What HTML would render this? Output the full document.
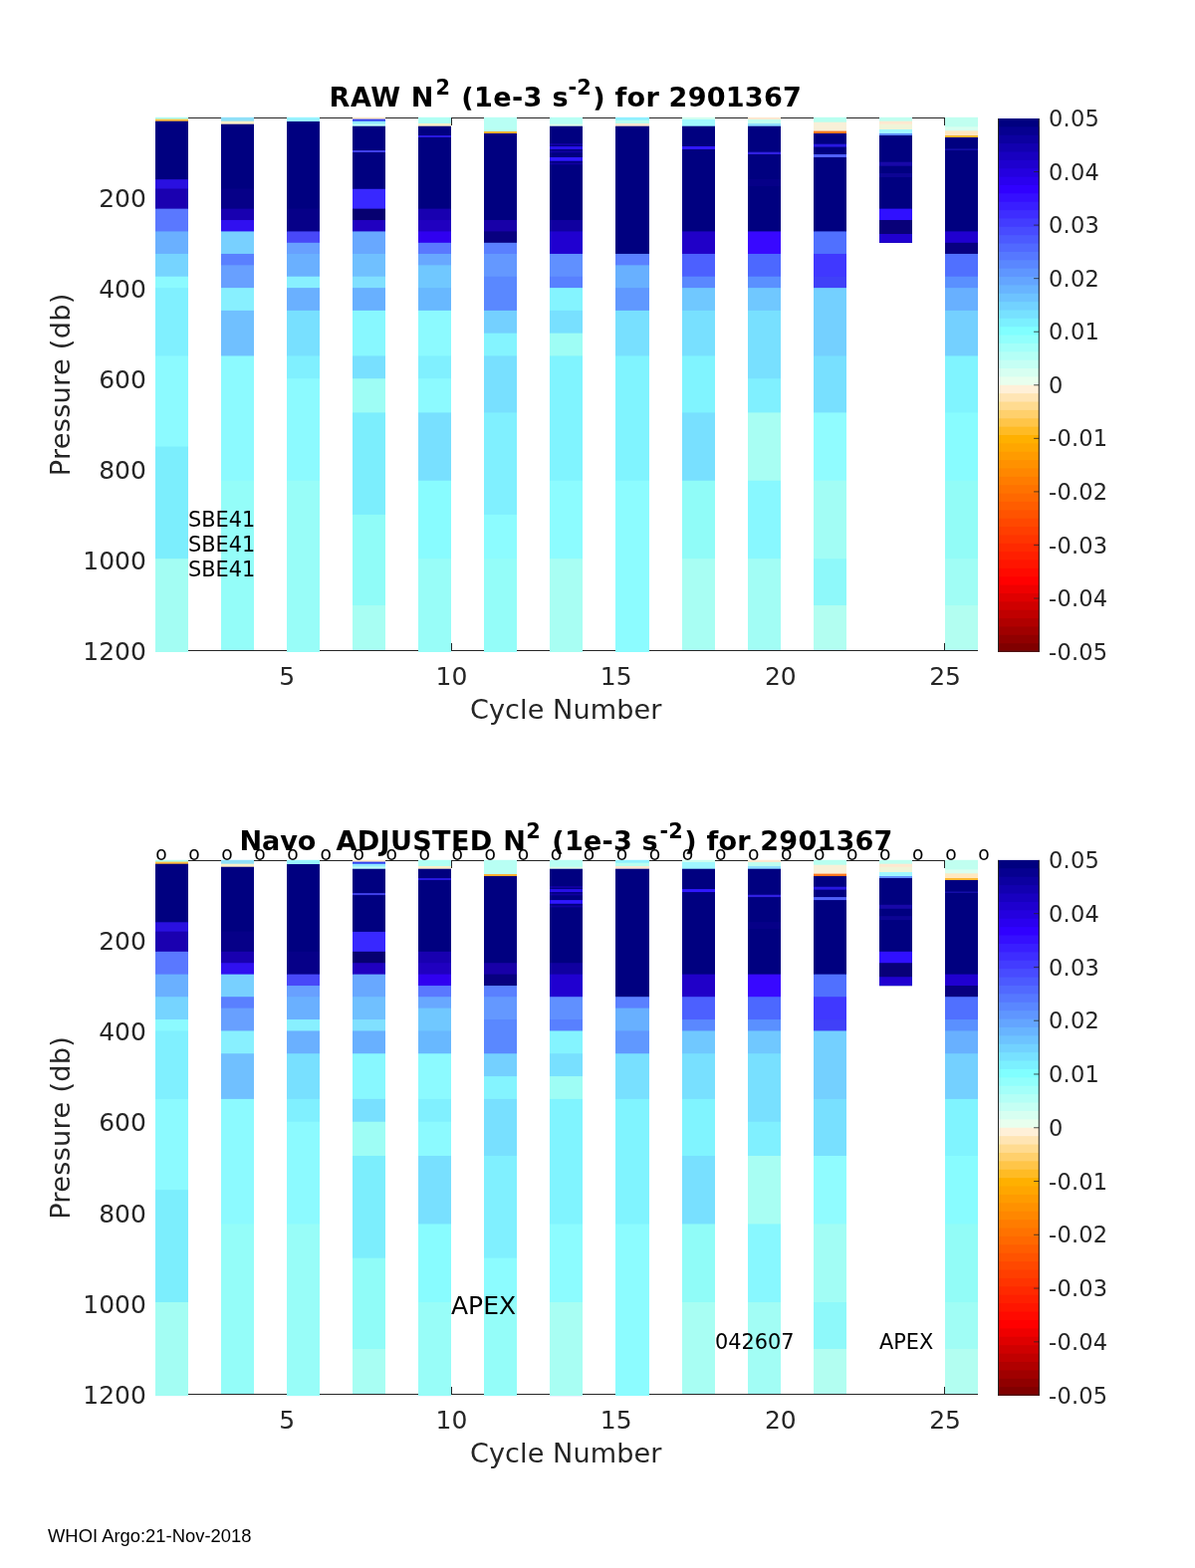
<!DOCTYPE html>
<html lang="en">
<head>
<meta charset="utf-8">
<title>N2 for 2901367</title>
<style>
html,body{margin:0;padding:0;background:#fff;}
body{width:1200px;height:1575px;overflow:hidden;}
svg{display:block;font-family:'DejaVu Sans','Liberation Sans',sans-serif;}
</style>
</head>
<body>
<svg width="1200" height="1575" viewBox="0 0 1200 1575">
<rect width="1200" height="1575" fill="#fff"/>
<g stroke="#262626" stroke-width="1" fill="none" shape-rendering="crispEdges">
<path d="M156 118.5H982M156 653.5H982"/>
<path d="M453.5 118.5v7.8M453.5 653.5v-7.8M948.5 118.5v7.8M948.5 653.5v-7.8"/>
</g>
<g>
<rect x="1002.3" y="119.00" width="41.20" height="535.60" fill="#000080"/>
<rect x="1002.3" y="127.37" width="41.20" height="527.23" fill="#060090"/>
<rect x="1002.3" y="135.74" width="41.20" height="518.86" fill="#0c00a0"/>
<rect x="1002.3" y="144.11" width="41.20" height="510.49" fill="#1200b0"/>
<rect x="1002.3" y="152.47" width="41.20" height="502.12" fill="#1800c0"/>
<rect x="1002.3" y="160.84" width="41.20" height="493.76" fill="#1e00cf"/>
<rect x="1002.3" y="169.21" width="41.20" height="485.39" fill="#2400df"/>
<rect x="1002.3" y="177.58" width="41.20" height="477.02" fill="#2a00ef"/>
<rect x="1002.3" y="185.95" width="41.20" height="468.65" fill="#3000ff"/>
<rect x="1002.3" y="194.32" width="41.20" height="460.28" fill="#350fff"/>
<rect x="1002.3" y="202.69" width="41.20" height="451.91" fill="#391eff"/>
<rect x="1002.3" y="211.06" width="41.20" height="443.54" fill="#3e2dff"/>
<rect x="1002.3" y="219.43" width="41.20" height="435.18" fill="#433cff"/>
<rect x="1002.3" y="227.79" width="41.20" height="426.81" fill="#484bff"/>
<rect x="1002.3" y="236.16" width="41.20" height="418.44" fill="#4c5aff"/>
<rect x="1002.3" y="244.53" width="41.20" height="410.07" fill="#5169ff"/>
<rect x="1002.3" y="252.90" width="41.20" height="401.70" fill="#5678ff"/>
<rect x="1002.3" y="261.27" width="41.20" height="393.33" fill="#5a87ff"/>
<rect x="1002.3" y="269.64" width="41.20" height="384.96" fill="#5f96ff"/>
<rect x="1002.3" y="278.01" width="41.20" height="376.59" fill="#64a5ff"/>
<rect x="1002.3" y="286.38" width="41.20" height="368.23" fill="#68b4ff"/>
<rect x="1002.3" y="294.74" width="41.20" height="359.86" fill="#6dc3ff"/>
<rect x="1002.3" y="303.11" width="41.20" height="351.49" fill="#72d2ff"/>
<rect x="1002.3" y="311.48" width="41.20" height="343.12" fill="#77e1ff"/>
<rect x="1002.3" y="319.85" width="41.20" height="334.75" fill="#7bf0ff"/>
<rect x="1002.3" y="328.22" width="41.20" height="326.38" fill="#80ffff"/>
<rect x="1002.3" y="336.59" width="41.20" height="318.01" fill="#91fffc"/>
<rect x="1002.3" y="344.96" width="41.20" height="309.64" fill="#a3fff9"/>
<rect x="1002.3" y="353.33" width="41.20" height="301.27" fill="#b4fff6"/>
<rect x="1002.3" y="361.69" width="41.20" height="292.91" fill="#c5fff4"/>
<rect x="1002.3" y="370.06" width="41.20" height="284.54" fill="#d7fff1"/>
<rect x="1002.3" y="378.43" width="41.20" height="276.17" fill="#e8ffee"/>
<rect x="1002.3" y="386.80" width="41.20" height="267.80" fill="#fff0d8"/>
<rect x="1002.3" y="395.17" width="41.20" height="259.43" fill="#ffe5b4"/>
<rect x="1002.3" y="403.54" width="41.20" height="251.06" fill="#ffdb90"/>
<rect x="1002.3" y="411.91" width="41.20" height="242.69" fill="#ffd06c"/>
<rect x="1002.3" y="420.28" width="41.20" height="234.32" fill="#ffc548"/>
<rect x="1002.3" y="428.64" width="41.20" height="225.96" fill="#ffbb24"/>
<rect x="1002.3" y="437.01" width="41.20" height="217.59" fill="#ffb000"/>
<rect x="1002.3" y="445.38" width="41.20" height="209.22" fill="#ffa600"/>
<rect x="1002.3" y="453.75" width="41.20" height="200.85" fill="#ff9b00"/>
<rect x="1002.3" y="462.12" width="41.20" height="192.48" fill="#ff9100"/>
<rect x="1002.3" y="470.49" width="41.20" height="184.11" fill="#ff8700"/>
<rect x="1002.3" y="478.86" width="41.20" height="175.74" fill="#ff7c00"/>
<rect x="1002.3" y="487.23" width="41.20" height="167.38" fill="#ff7200"/>
<rect x="1002.3" y="495.59" width="41.20" height="159.01" fill="#ff6800"/>
<rect x="1002.3" y="503.96" width="41.20" height="150.64" fill="#ff5d00"/>
<rect x="1002.3" y="512.33" width="41.20" height="142.27" fill="#ff5300"/>
<rect x="1002.3" y="520.70" width="41.20" height="133.90" fill="#ff4800"/>
<rect x="1002.3" y="529.07" width="41.20" height="125.53" fill="#ff3e00"/>
<rect x="1002.3" y="537.44" width="41.20" height="117.16" fill="#ff3400"/>
<rect x="1002.3" y="545.81" width="41.20" height="108.79" fill="#ff2900"/>
<rect x="1002.3" y="554.17" width="41.20" height="100.43" fill="#ff1f00"/>
<rect x="1002.3" y="562.54" width="41.20" height="92.06" fill="#ff1500"/>
<rect x="1002.3" y="570.91" width="41.20" height="83.69" fill="#ff0a00"/>
<rect x="1002.3" y="579.28" width="41.20" height="75.32" fill="#ff0000"/>
<rect x="1002.3" y="587.65" width="41.20" height="66.95" fill="#ef0000"/>
<rect x="1002.3" y="596.02" width="41.20" height="58.58" fill="#df0000"/>
<rect x="1002.3" y="604.39" width="41.20" height="50.21" fill="#cf0000"/>
<rect x="1002.3" y="612.76" width="41.20" height="41.84" fill="#c00000"/>
<rect x="1002.3" y="621.12" width="41.20" height="33.48" fill="#b00000"/>
<rect x="1002.3" y="629.49" width="41.20" height="25.11" fill="#a00000"/>
<rect x="1002.3" y="637.86" width="41.20" height="16.74" fill="#900000"/>
<rect x="1002.3" y="646.23" width="41.20" height="8.37" fill="#800000"/>
</g>
<g stroke="#262626" stroke-width="0.8" fill="none">
<path d="M1002.5 119.0V654.6M1043.3 119.0V654.6" stroke-width="1"/>
<path d="M1002 654.20H1043.8" stroke-width="0.8"/>
<path d="M1043.5 172.56h-5.4"/>
<path d="M1043.5 226.12h-5.4"/>
<path d="M1043.5 279.68h-5.4"/>
<path d="M1043.5 333.24h-5.4"/>
<path d="M1043.5 386.80h-5.4"/>
<path d="M1043.5 440.36h-5.4"/>
<path d="M1043.5 493.92h-5.4"/>
<path d="M1043.5 547.48h-5.4"/>
<path d="M1043.5 601.04h-5.4"/>
</g>
<g font-size="22.5" fill="#262626" letter-spacing="0.2">
<text x="1053.1" y="127.1" xml:space="preserve">0.05</text>
<text x="1053.1" y="180.66" xml:space="preserve">0.04</text>
<text x="1053.1" y="234.22" xml:space="preserve">0.03</text>
<text x="1053.1" y="287.78" xml:space="preserve">0.02</text>
<text x="1053.1" y="341.34" xml:space="preserve">0.01</text>
<text x="1053.1" y="394.9" xml:space="preserve">0</text>
<text x="1053.1" y="448.46" xml:space="preserve">-0.01</text>
<text x="1053.1" y="502.02" xml:space="preserve">-0.02</text>
<text x="1053.1" y="555.58" xml:space="preserve">-0.03</text>
<text x="1053.1" y="609.14" xml:space="preserve">-0.04</text>
<text x="1053.1" y="662.7" xml:space="preserve">-0.05</text>
</g>
<g transform="translate(0,0)">
<g>
<rect x="156" y="117.80" width="33" height="537.20" fill="#b0fff4"/>
<rect x="156" y="119.60" width="33" height="535.40" fill="#ffc040"/>
<rect x="156" y="121.70" width="33" height="533.30" fill="#000080"/>
<rect x="156" y="180.20" width="33" height="474.80" fill="#2a10e0"/>
<rect x="156" y="189.50" width="33" height="465.50" fill="#1a00b0"/>
<rect x="156" y="209.64" width="33" height="445.36" fill="#5a78ff"/>
<rect x="156" y="232.42" width="33" height="422.58" fill="#6ab0ff"/>
<rect x="156" y="254.95" width="33" height="400.05" fill="#76d4ff"/>
<rect x="156" y="277.73" width="33" height="377.27" fill="#8cfaff"/>
<rect x="156" y="289.12" width="33" height="365.88" fill="#80f0ff"/>
<rect x="156" y="357.46" width="33" height="297.54" fill="#8cfaff"/>
<rect x="156" y="448.58" width="33" height="206.42" fill="#7ceefd"/>
<rect x="156" y="561.20" width="33" height="93.80" fill="#a3fdf3"/>
<rect x="222" y="117.80" width="33" height="535.20" fill="#90e0f8"/>
<rect x="222" y="121.70" width="33" height="531.30" fill="#fff0c8"/>
<rect x="222" y="124.70" width="33" height="528.30" fill="#000080"/>
<rect x="222" y="189.50" width="33" height="463.50" fill="#060088"/>
<rect x="222" y="209.64" width="33" height="443.36" fill="#1800b0"/>
<rect x="222" y="221.03" width="33" height="431.97" fill="#3010f0"/>
<rect x="222" y="232.42" width="33" height="420.58" fill="#78d0ff"/>
<rect x="222" y="254.95" width="33" height="398.05" fill="#5a80ff"/>
<rect x="222" y="266.34" width="33" height="386.66" fill="#68a0ff"/>
<rect x="222" y="289.12" width="33" height="363.88" fill="#88f0ff"/>
<rect x="222" y="311.90" width="33" height="341.10" fill="#70c0ff"/>
<rect x="222" y="357.46" width="33" height="295.54" fill="#8cfaff"/>
<rect x="222" y="482.75" width="33" height="170.25" fill="#94fdf9"/>
<rect x="288" y="117.80" width="33" height="537.20" fill="#98f4ff"/>
<rect x="288" y="122.00" width="33" height="533.00" fill="#000080"/>
<rect x="288" y="209.64" width="33" height="445.36" fill="#060088"/>
<rect x="288" y="232.42" width="33" height="422.58" fill="#4848f8"/>
<rect x="288" y="243.81" width="33" height="411.19" fill="#68a0ff"/>
<rect x="288" y="254.95" width="33" height="400.05" fill="#6ab0ff"/>
<rect x="288" y="277.73" width="33" height="377.27" fill="#88f0ff"/>
<rect x="288" y="289.12" width="33" height="365.88" fill="#6ab0ff"/>
<rect x="288" y="311.90" width="33" height="343.10" fill="#78e0ff"/>
<rect x="288" y="357.46" width="33" height="297.54" fill="#80f0ff"/>
<rect x="288" y="380.24" width="33" height="274.76" fill="#8cfaff"/>
<rect x="288" y="482.75" width="33" height="172.25" fill="#98fdf8"/>
<rect x="354" y="117.80" width="33" height="535.20" fill="#ffe8c8"/>
<rect x="354" y="119.60" width="33" height="533.40" fill="#3040f0"/>
<rect x="354" y="121.70" width="33" height="531.30" fill="#90e8ff"/>
<rect x="354" y="124.40" width="33" height="528.60" fill="#c0fff8"/>
<rect x="354" y="126.70" width="33" height="526.30" fill="#000080"/>
<rect x="354" y="151.00" width="33" height="502.00" fill="#4040e8"/>
<rect x="354" y="153.00" width="33" height="500.00" fill="#000080"/>
<rect x="354" y="189.80" width="33" height="463.20" fill="#3828ff"/>
<rect x="354" y="209.64" width="33" height="443.36" fill="#060070"/>
<rect x="354" y="221.03" width="33" height="431.97" fill="#2000c0"/>
<rect x="354" y="232.42" width="33" height="420.58" fill="#68a8ff"/>
<rect x="354" y="254.95" width="33" height="398.05" fill="#70c0ff"/>
<rect x="354" y="277.73" width="33" height="375.27" fill="#80e0ff"/>
<rect x="354" y="289.12" width="33" height="363.88" fill="#68b0ff"/>
<rect x="354" y="311.90" width="33" height="341.10" fill="#88f8ff"/>
<rect x="354" y="357.46" width="33" height="295.54" fill="#78e0ff"/>
<rect x="354" y="380.24" width="33" height="272.76" fill="#9efdf5"/>
<rect x="354" y="414.41" width="33" height="238.59" fill="#7ceefd"/>
<rect x="354" y="516.92" width="33" height="136.08" fill="#90fcf8"/>
<rect x="354" y="608.04" width="33" height="44.96" fill="#a8fef3"/>
<rect x="420" y="117.80" width="33" height="537.20" fill="#b0fff4"/>
<rect x="420" y="124.00" width="33" height="531.00" fill="#fff0c8"/>
<rect x="420" y="126.70" width="33" height="528.30" fill="#000080"/>
<rect x="420" y="136.00" width="33" height="519.00" fill="#2818e0"/>
<rect x="420" y="138.00" width="33" height="517.00" fill="#000080"/>
<rect x="420" y="209.64" width="33" height="445.36" fill="#1800b0"/>
<rect x="420" y="221.03" width="33" height="433.97" fill="#2000c0"/>
<rect x="420" y="232.42" width="33" height="422.58" fill="#3000f0"/>
<rect x="420" y="243.81" width="33" height="411.19" fill="#5a78ff"/>
<rect x="420" y="254.95" width="33" height="400.05" fill="#68a8ff"/>
<rect x="420" y="266.34" width="33" height="388.66" fill="#70c8ff"/>
<rect x="420" y="289.12" width="33" height="365.88" fill="#68b8ff"/>
<rect x="420" y="311.90" width="33" height="343.10" fill="#8cfaff"/>
<rect x="420" y="357.46" width="33" height="297.54" fill="#80f0ff"/>
<rect x="420" y="380.24" width="33" height="274.76" fill="#8cfaff"/>
<rect x="420" y="414.41" width="33" height="240.59" fill="#78e0ff"/>
<rect x="420" y="482.75" width="33" height="172.25" fill="#88fcff"/>
<rect x="420" y="561.20" width="33" height="93.80" fill="#98fdf8"/>
<rect x="486" y="117.80" width="33" height="537.20" fill="#b8fff4"/>
<rect x="486" y="132.00" width="33" height="523.00" fill="#ffb030"/>
<rect x="486" y="134.00" width="33" height="521.00" fill="#000080"/>
<rect x="486" y="221.03" width="33" height="433.97" fill="#1800a8"/>
<rect x="486" y="232.42" width="33" height="422.58" fill="#080080"/>
<rect x="486" y="243.81" width="33" height="411.19" fill="#5a80ff"/>
<rect x="486" y="254.95" width="33" height="400.05" fill="#6498ff"/>
<rect x="486" y="277.73" width="33" height="377.27" fill="#5a88ff"/>
<rect x="486" y="311.90" width="33" height="343.10" fill="#74d0ff"/>
<rect x="486" y="334.68" width="33" height="320.32" fill="#84f4ff"/>
<rect x="486" y="357.46" width="33" height="297.54" fill="#78e0ff"/>
<rect x="486" y="414.41" width="33" height="240.59" fill="#80f0ff"/>
<rect x="486" y="516.92" width="33" height="138.08" fill="#8cfcff"/>
<rect x="486" y="561.20" width="33" height="93.80" fill="#94fdf9"/>
<rect x="552" y="117.80" width="33" height="537.20" fill="#b8fff4"/>
<rect x="552" y="124.70" width="33" height="530.30" fill="#e0ffe8"/>
<rect x="552" y="126.70" width="33" height="528.30" fill="#000080"/>
<rect x="552" y="144.00" width="33" height="511.00" fill="#1000a0"/>
<rect x="552" y="146.00" width="33" height="509.00" fill="#000080"/>
<rect x="552" y="147.00" width="33" height="508.00" fill="#2810e8"/>
<rect x="552" y="150.00" width="33" height="505.00" fill="#000080"/>
<rect x="552" y="151.50" width="33" height="503.50" fill="#1000a0"/>
<rect x="552" y="153.30" width="33" height="501.70" fill="#000080"/>
<rect x="552" y="158.00" width="33" height="497.00" fill="#3018ff"/>
<rect x="552" y="161.70" width="33" height="493.30" fill="#000080"/>
<rect x="552" y="163.50" width="33" height="491.50" fill="#1000a0"/>
<rect x="552" y="165.30" width="33" height="489.70" fill="#000080"/>
<rect x="552" y="221.03" width="33" height="433.97" fill="#1000a0"/>
<rect x="552" y="232.42" width="33" height="422.58" fill="#2000d0"/>
<rect x="552" y="254.95" width="33" height="400.05" fill="#6090ff"/>
<rect x="552" y="277.73" width="33" height="377.27" fill="#5880ff"/>
<rect x="552" y="289.12" width="33" height="365.88" fill="#84f4ff"/>
<rect x="552" y="311.90" width="33" height="343.10" fill="#78e0ff"/>
<rect x="552" y="334.68" width="33" height="320.32" fill="#9efdf5"/>
<rect x="552" y="357.46" width="33" height="297.54" fill="#80f4ff"/>
<rect x="552" y="482.75" width="33" height="172.25" fill="#8cfcff"/>
<rect x="552" y="561.20" width="33" height="93.80" fill="#a8fef3"/>
<rect x="618" y="117.80" width="34" height="537.20" fill="#90f0ff"/>
<rect x="618" y="120.70" width="34" height="534.30" fill="#b8fff0"/>
<rect x="618" y="124.00" width="34" height="531.00" fill="#ffe8d0"/>
<rect x="618" y="126.70" width="34" height="528.30" fill="#000080"/>
<rect x="618" y="254.95" width="34" height="400.05" fill="#5a80ff"/>
<rect x="618" y="266.34" width="34" height="388.66" fill="#68b0ff"/>
<rect x="618" y="289.12" width="34" height="365.88" fill="#6098ff"/>
<rect x="618" y="311.90" width="34" height="343.10" fill="#78e0ff"/>
<rect x="618" y="357.46" width="34" height="297.54" fill="#80f4ff"/>
<rect x="618" y="482.75" width="34" height="172.25" fill="#8cfcff"/>
<rect x="685" y="117.80" width="33" height="535.20" fill="#d0fff0"/>
<rect x="685" y="120.00" width="33" height="533.00" fill="#a0f8ff"/>
<rect x="685" y="126.70" width="33" height="526.30" fill="#000080"/>
<rect x="685" y="147.00" width="33" height="506.00" fill="#3018ff"/>
<rect x="685" y="150.00" width="33" height="503.00" fill="#000080"/>
<rect x="685" y="232.42" width="33" height="420.58" fill="#2000c8"/>
<rect x="685" y="254.95" width="33" height="398.05" fill="#4c60ff"/>
<rect x="685" y="277.73" width="33" height="375.27" fill="#5a88ff"/>
<rect x="685" y="289.12" width="33" height="363.88" fill="#70c8ff"/>
<rect x="685" y="311.90" width="33" height="341.10" fill="#78e0ff"/>
<rect x="685" y="357.46" width="33" height="295.54" fill="#80f4ff"/>
<rect x="685" y="414.41" width="33" height="238.59" fill="#78e0ff"/>
<rect x="685" y="482.75" width="33" height="170.25" fill="#90fcf8"/>
<rect x="685" y="561.20" width="33" height="91.80" fill="#a8fef3"/>
<rect x="751" y="117.80" width="33" height="535.20" fill="#ffe8d0"/>
<rect x="751" y="120.00" width="33" height="533.00" fill="#c0fff0"/>
<rect x="751" y="124.00" width="33" height="529.00" fill="#90e0ff"/>
<rect x="751" y="126.70" width="33" height="526.30" fill="#000080"/>
<rect x="751" y="152.70" width="33" height="500.30" fill="#3020e0"/>
<rect x="751" y="155.00" width="33" height="498.00" fill="#000080"/>
<rect x="751" y="180.00" width="33" height="473.00" fill="#060088"/>
<rect x="751" y="187.00" width="33" height="466.00" fill="#000080"/>
<rect x="751" y="232.42" width="33" height="420.58" fill="#3808ff"/>
<rect x="751" y="254.95" width="33" height="398.05" fill="#4c68ff"/>
<rect x="751" y="277.73" width="33" height="375.27" fill="#5a90ff"/>
<rect x="751" y="289.12" width="33" height="363.88" fill="#70c8ff"/>
<rect x="751" y="311.90" width="33" height="341.10" fill="#78e0ff"/>
<rect x="751" y="380.24" width="33" height="272.76" fill="#80f0ff"/>
<rect x="751" y="414.41" width="33" height="238.59" fill="#a8fef3"/>
<rect x="751" y="482.75" width="33" height="170.25" fill="#88f8ff"/>
<rect x="751" y="561.20" width="33" height="91.80" fill="#a2fdf5"/>
<rect x="817" y="117.80" width="33" height="535.20" fill="#b8fff0"/>
<rect x="817" y="122.70" width="33" height="530.30" fill="#f8f0d8"/>
<rect x="817" y="131.60" width="33" height="521.40" fill="#ff7820"/>
<rect x="817" y="134.00" width="33" height="519.00" fill="#000080"/>
<rect x="817" y="144.70" width="33" height="508.30" fill="#2818e0"/>
<rect x="817" y="147.60" width="33" height="505.40" fill="#000080"/>
<rect x="817" y="155.00" width="33" height="498.00" fill="#5060f8"/>
<rect x="817" y="158.00" width="33" height="495.00" fill="#000080"/>
<rect x="817" y="232.42" width="33" height="420.58" fill="#5070ff"/>
<rect x="817" y="254.95" width="33" height="398.05" fill="#4038ff"/>
<rect x="817" y="277.73" width="33" height="375.27" fill="#4040f8"/>
<rect x="817" y="289.12" width="33" height="363.88" fill="#74d0ff"/>
<rect x="817" y="357.46" width="33" height="295.54" fill="#78e0ff"/>
<rect x="817" y="414.41" width="33" height="238.59" fill="#90fcff"/>
<rect x="817" y="482.75" width="33" height="170.25" fill="#a2fdf5"/>
<rect x="817" y="561.20" width="33" height="91.80" fill="#8ef9fa"/>
<rect x="817" y="608.04" width="33" height="44.96" fill="#b2fef1"/>
<rect x="883" y="117.80" width="33" height="126.00" fill="#c0fff0"/>
<rect x="883" y="121.70" width="33" height="122.10" fill="#ffe8d0"/>
<rect x="883" y="124.70" width="33" height="119.10" fill="#f0f4d8"/>
<rect x="883" y="130.00" width="33" height="113.80" fill="#a0f8ff"/>
<rect x="883" y="134.00" width="33" height="109.80" fill="#6090ff"/>
<rect x="883" y="136.00" width="33" height="107.80" fill="#000080"/>
<rect x="883" y="162.70" width="33" height="81.10" fill="#1808a8"/>
<rect x="883" y="166.70" width="33" height="77.10" fill="#000080"/>
<rect x="883" y="174.00" width="33" height="69.80" fill="#0c0494"/>
<rect x="883" y="178.00" width="33" height="65.80" fill="#000080"/>
<rect x="883" y="209.64" width="33" height="34.16" fill="#3010ff"/>
<rect x="883" y="221.03" width="33" height="22.77" fill="#080078"/>
<rect x="883" y="235.00" width="33" height="8.80" fill="#2000d0"/>
<rect x="949" y="117.80" width="33" height="535.20" fill="#c0fff0"/>
<rect x="949" y="127.30" width="33" height="525.70" fill="#d8fff0"/>
<rect x="949" y="131.30" width="33" height="521.70" fill="#ffe8c0"/>
<rect x="949" y="136.00" width="33" height="517.00" fill="#ffb830"/>
<rect x="949" y="138.00" width="33" height="515.00" fill="#000080"/>
<rect x="949" y="149.50" width="33" height="503.50" fill="#1810b0"/>
<rect x="949" y="150.80" width="33" height="502.20" fill="#000080"/>
<rect x="949" y="232.42" width="33" height="420.58" fill="#2000d0"/>
<rect x="949" y="243.81" width="33" height="409.19" fill="#080080"/>
<rect x="949" y="254.95" width="33" height="398.05" fill="#5070ff"/>
<rect x="949" y="277.73" width="33" height="375.27" fill="#5a90ff"/>
<rect x="949" y="289.12" width="33" height="363.88" fill="#68b0ff"/>
<rect x="949" y="311.90" width="33" height="341.10" fill="#74d0ff"/>
<rect x="949" y="357.46" width="33" height="295.54" fill="#80f4ff"/>
<rect x="949" y="414.41" width="33" height="238.59" fill="#88fcff"/>
<rect x="949" y="482.75" width="33" height="170.25" fill="#92fcf7"/>
<rect x="949" y="561.20" width="33" height="91.80" fill="#a0fdf5"/>
<rect x="949" y="608.04" width="33" height="44.96" fill="#b2fef1"/>
</g>
<g font-size="25" fill="#262626">
<text x="146.9" y="207.6" text-anchor="end" xml:space="preserve">200</text>
<text x="146.9" y="298.68" text-anchor="end" xml:space="preserve">400</text>
<text x="146.9" y="389.76" text-anchor="end" xml:space="preserve">600</text>
<text x="146.9" y="480.84" text-anchor="end" xml:space="preserve">800</text>
<text x="146.9" y="571.92" text-anchor="end" xml:space="preserve">1000</text>
<text x="146.9" y="663.0" text-anchor="end" xml:space="preserve">1200</text>
<text x="288.26" y="688.3" text-anchor="middle" xml:space="preserve">5</text>
<text x="453.46" y="688.3" text-anchor="middle" xml:space="preserve">10</text>
<text x="618.66" y="688.3" text-anchor="middle" xml:space="preserve">15</text>
<text x="783.86" y="688.3" text-anchor="middle" xml:space="preserve">20</text>
<text x="949.06" y="688.3" text-anchor="middle" xml:space="preserve">25</text>
</g>
<g font-size="27.08" fill="#262626">
<text x="472.0" y="721.7" textLength="192.3" lengthAdjust="spacing" xml:space="preserve">Cycle Number</text>
<text transform="translate(70.3,478.2) rotate(-90)" textLength="183.5" lengthAdjust="spacing">Pressure (db)</text>
</g>
<g font-size="27.08" font-weight="bold" fill="#000">
<text x="330.5" y="107.3" textLength="105" lengthAdjust="spacing" xml:space="preserve">RAW N</text>
<text x="437.5" y="95.0" font-size="20.83" xml:space="preserve">2</text>
<text x="453.5" y="107.3" textLength="117.2" lengthAdjust="spacing" xml:space="preserve"> (1e-3 s</text>
<text x="570.5" y="95.0" font-size="20.83" xml:space="preserve">-2</text>
<text x="595.3" y="107.3" textLength="209.5" lengthAdjust="spacing" xml:space="preserve">) for 2901367</text>
</g>
<g font-size="20.83" fill="#000">
<text x="189" y="529.2" xml:space="preserve">SBE41</text>
<text x="189" y="554.2" xml:space="preserve">SBE41</text>
<text x="189" y="579.2" xml:space="preserve">SBE41</text>
</g>
</g>
<g stroke="#262626" stroke-width="1" fill="none" shape-rendering="crispEdges">
<path d="M156 864.5H982M156 1400.5H982"/>
<path d="M453.5 864.5v7.8M453.5 1400.5v-7.8M948.5 864.5v7.8M948.5 1400.5v-7.8"/>
</g>
<g>
<rect x="1002.3" y="863.90" width="41.20" height="537.70" fill="#000080"/>
<rect x="1002.3" y="872.30" width="41.20" height="529.30" fill="#060090"/>
<rect x="1002.3" y="880.70" width="41.20" height="520.90" fill="#0c00a0"/>
<rect x="1002.3" y="889.10" width="41.20" height="512.50" fill="#1200b0"/>
<rect x="1002.3" y="897.51" width="41.20" height="504.09" fill="#1800c0"/>
<rect x="1002.3" y="905.91" width="41.20" height="495.69" fill="#1e00cf"/>
<rect x="1002.3" y="914.31" width="41.20" height="487.29" fill="#2400df"/>
<rect x="1002.3" y="922.71" width="41.20" height="478.89" fill="#2a00ef"/>
<rect x="1002.3" y="931.11" width="41.20" height="470.49" fill="#3000ff"/>
<rect x="1002.3" y="939.51" width="41.20" height="462.09" fill="#350fff"/>
<rect x="1002.3" y="947.92" width="41.20" height="453.68" fill="#391eff"/>
<rect x="1002.3" y="956.32" width="41.20" height="445.28" fill="#3e2dff"/>
<rect x="1002.3" y="964.72" width="41.20" height="436.88" fill="#433cff"/>
<rect x="1002.3" y="973.12" width="41.20" height="428.48" fill="#484bff"/>
<rect x="1002.3" y="981.52" width="41.20" height="420.08" fill="#4c5aff"/>
<rect x="1002.3" y="989.92" width="41.20" height="411.68" fill="#5169ff"/>
<rect x="1002.3" y="998.32" width="41.20" height="403.27" fill="#5678ff"/>
<rect x="1002.3" y="1006.73" width="41.20" height="394.87" fill="#5a87ff"/>
<rect x="1002.3" y="1015.13" width="41.20" height="386.47" fill="#5f96ff"/>
<rect x="1002.3" y="1023.53" width="41.20" height="378.07" fill="#64a5ff"/>
<rect x="1002.3" y="1031.93" width="41.20" height="369.67" fill="#68b4ff"/>
<rect x="1002.3" y="1040.33" width="41.20" height="361.27" fill="#6dc3ff"/>
<rect x="1002.3" y="1048.73" width="41.20" height="352.87" fill="#72d2ff"/>
<rect x="1002.3" y="1057.14" width="41.20" height="344.46" fill="#77e1ff"/>
<rect x="1002.3" y="1065.54" width="41.20" height="336.06" fill="#7bf0ff"/>
<rect x="1002.3" y="1073.94" width="41.20" height="327.66" fill="#80ffff"/>
<rect x="1002.3" y="1082.34" width="41.20" height="319.26" fill="#91fffc"/>
<rect x="1002.3" y="1090.74" width="41.20" height="310.86" fill="#a3fff9"/>
<rect x="1002.3" y="1099.14" width="41.20" height="302.46" fill="#b4fff6"/>
<rect x="1002.3" y="1107.55" width="41.20" height="294.05" fill="#c5fff4"/>
<rect x="1002.3" y="1115.95" width="41.20" height="285.65" fill="#d7fff1"/>
<rect x="1002.3" y="1124.35" width="41.20" height="277.25" fill="#e8ffee"/>
<rect x="1002.3" y="1132.75" width="41.20" height="268.85" fill="#fff0d8"/>
<rect x="1002.3" y="1141.15" width="41.20" height="260.45" fill="#ffe5b4"/>
<rect x="1002.3" y="1149.55" width="41.20" height="252.05" fill="#ffdb90"/>
<rect x="1002.3" y="1157.95" width="41.20" height="243.65" fill="#ffd06c"/>
<rect x="1002.3" y="1166.36" width="41.20" height="235.24" fill="#ffc548"/>
<rect x="1002.3" y="1174.76" width="41.20" height="226.84" fill="#ffbb24"/>
<rect x="1002.3" y="1183.16" width="41.20" height="218.44" fill="#ffb000"/>
<rect x="1002.3" y="1191.56" width="41.20" height="210.04" fill="#ffa600"/>
<rect x="1002.3" y="1199.96" width="41.20" height="201.64" fill="#ff9b00"/>
<rect x="1002.3" y="1208.36" width="41.20" height="193.24" fill="#ff9100"/>
<rect x="1002.3" y="1216.77" width="41.20" height="184.83" fill="#ff8700"/>
<rect x="1002.3" y="1225.17" width="41.20" height="176.43" fill="#ff7c00"/>
<rect x="1002.3" y="1233.57" width="41.20" height="168.03" fill="#ff7200"/>
<rect x="1002.3" y="1241.97" width="41.20" height="159.63" fill="#ff6800"/>
<rect x="1002.3" y="1250.37" width="41.20" height="151.23" fill="#ff5d00"/>
<rect x="1002.3" y="1258.77" width="41.20" height="142.83" fill="#ff5300"/>
<rect x="1002.3" y="1267.17" width="41.20" height="134.42" fill="#ff4800"/>
<rect x="1002.3" y="1275.58" width="41.20" height="126.02" fill="#ff3e00"/>
<rect x="1002.3" y="1283.98" width="41.20" height="117.62" fill="#ff3400"/>
<rect x="1002.3" y="1292.38" width="41.20" height="109.22" fill="#ff2900"/>
<rect x="1002.3" y="1300.78" width="41.20" height="100.82" fill="#ff1f00"/>
<rect x="1002.3" y="1309.18" width="41.20" height="92.42" fill="#ff1500"/>
<rect x="1002.3" y="1317.58" width="41.20" height="84.02" fill="#ff0a00"/>
<rect x="1002.3" y="1325.99" width="41.20" height="75.61" fill="#ff0000"/>
<rect x="1002.3" y="1334.39" width="41.20" height="67.21" fill="#ef0000"/>
<rect x="1002.3" y="1342.79" width="41.20" height="58.81" fill="#df0000"/>
<rect x="1002.3" y="1351.19" width="41.20" height="50.41" fill="#cf0000"/>
<rect x="1002.3" y="1359.59" width="41.20" height="42.01" fill="#c00000"/>
<rect x="1002.3" y="1367.99" width="41.20" height="33.61" fill="#b00000"/>
<rect x="1002.3" y="1376.40" width="41.20" height="25.20" fill="#a00000"/>
<rect x="1002.3" y="1384.80" width="41.20" height="16.80" fill="#900000"/>
<rect x="1002.3" y="1393.20" width="41.20" height="8.40" fill="#800000"/>
</g>
<g stroke="#262626" stroke-width="0.8" fill="none">
<path d="M1002.5 863.9V1401.6M1043.3 863.9V1401.6" stroke-width="1"/>
<path d="M1002 1401.20H1043.8" stroke-width="0.8"/>
<path d="M1043.5 917.67h-5.4"/>
<path d="M1043.5 971.44h-5.4"/>
<path d="M1043.5 1025.21h-5.4"/>
<path d="M1043.5 1078.98h-5.4"/>
<path d="M1043.5 1132.75h-5.4"/>
<path d="M1043.5 1186.52h-5.4"/>
<path d="M1043.5 1240.29h-5.4"/>
<path d="M1043.5 1294.06h-5.4"/>
<path d="M1043.5 1347.83h-5.4"/>
</g>
<g font-size="22.5" fill="#262626" letter-spacing="0.2">
<text x="1053.1" y="872.0" xml:space="preserve">0.05</text>
<text x="1053.1" y="925.77" xml:space="preserve">0.04</text>
<text x="1053.1" y="979.54" xml:space="preserve">0.03</text>
<text x="1053.1" y="1033.31" xml:space="preserve">0.02</text>
<text x="1053.1" y="1087.08" xml:space="preserve">0.01</text>
<text x="1053.1" y="1140.85" xml:space="preserve">0</text>
<text x="1053.1" y="1194.62" xml:space="preserve">-0.01</text>
<text x="1053.1" y="1248.39" xml:space="preserve">-0.02</text>
<text x="1053.1" y="1302.16" xml:space="preserve">-0.03</text>
<text x="1053.1" y="1355.93" xml:space="preserve">-0.04</text>
<text x="1053.1" y="1409.7" xml:space="preserve">-0.05</text>
</g>
<g transform="translate(0,745.779) scale(1,1.00187)">
<g>
<rect x="156" y="117.80" width="33" height="537.20" fill="#b0fff4"/>
<rect x="156" y="119.60" width="33" height="535.40" fill="#ffc040"/>
<rect x="156" y="121.70" width="33" height="533.30" fill="#000080"/>
<rect x="156" y="180.20" width="33" height="474.80" fill="#2a10e0"/>
<rect x="156" y="189.50" width="33" height="465.50" fill="#1a00b0"/>
<rect x="156" y="209.64" width="33" height="445.36" fill="#5a78ff"/>
<rect x="156" y="232.42" width="33" height="422.58" fill="#6ab0ff"/>
<rect x="156" y="254.95" width="33" height="400.05" fill="#76d4ff"/>
<rect x="156" y="277.73" width="33" height="377.27" fill="#8cfaff"/>
<rect x="156" y="289.12" width="33" height="365.88" fill="#80f0ff"/>
<rect x="156" y="357.46" width="33" height="297.54" fill="#8cfaff"/>
<rect x="156" y="448.58" width="33" height="206.42" fill="#7ceefd"/>
<rect x="156" y="561.20" width="33" height="93.80" fill="#a3fdf3"/>
<rect x="222" y="117.80" width="33" height="535.20" fill="#90e0f8"/>
<rect x="222" y="121.70" width="33" height="531.30" fill="#fff0c8"/>
<rect x="222" y="124.70" width="33" height="528.30" fill="#000080"/>
<rect x="222" y="189.50" width="33" height="463.50" fill="#060088"/>
<rect x="222" y="209.64" width="33" height="443.36" fill="#1800b0"/>
<rect x="222" y="221.03" width="33" height="431.97" fill="#3010f0"/>
<rect x="222" y="232.42" width="33" height="420.58" fill="#78d0ff"/>
<rect x="222" y="254.95" width="33" height="398.05" fill="#5a80ff"/>
<rect x="222" y="266.34" width="33" height="386.66" fill="#68a0ff"/>
<rect x="222" y="289.12" width="33" height="363.88" fill="#88f0ff"/>
<rect x="222" y="311.90" width="33" height="341.10" fill="#70c0ff"/>
<rect x="222" y="357.46" width="33" height="295.54" fill="#8cfaff"/>
<rect x="222" y="482.75" width="33" height="170.25" fill="#94fdf9"/>
<rect x="288" y="117.80" width="33" height="537.20" fill="#98f4ff"/>
<rect x="288" y="122.00" width="33" height="533.00" fill="#000080"/>
<rect x="288" y="209.64" width="33" height="445.36" fill="#060088"/>
<rect x="288" y="232.42" width="33" height="422.58" fill="#4848f8"/>
<rect x="288" y="243.81" width="33" height="411.19" fill="#68a0ff"/>
<rect x="288" y="254.95" width="33" height="400.05" fill="#6ab0ff"/>
<rect x="288" y="277.73" width="33" height="377.27" fill="#88f0ff"/>
<rect x="288" y="289.12" width="33" height="365.88" fill="#6ab0ff"/>
<rect x="288" y="311.90" width="33" height="343.10" fill="#78e0ff"/>
<rect x="288" y="357.46" width="33" height="297.54" fill="#80f0ff"/>
<rect x="288" y="380.24" width="33" height="274.76" fill="#8cfaff"/>
<rect x="288" y="482.75" width="33" height="172.25" fill="#98fdf8"/>
<rect x="354" y="117.80" width="33" height="535.20" fill="#ffe8c8"/>
<rect x="354" y="119.60" width="33" height="533.40" fill="#3040f0"/>
<rect x="354" y="121.70" width="33" height="531.30" fill="#90e8ff"/>
<rect x="354" y="124.40" width="33" height="528.60" fill="#c0fff8"/>
<rect x="354" y="126.70" width="33" height="526.30" fill="#000080"/>
<rect x="354" y="151.00" width="33" height="502.00" fill="#4040e8"/>
<rect x="354" y="153.00" width="33" height="500.00" fill="#000080"/>
<rect x="354" y="189.80" width="33" height="463.20" fill="#3828ff"/>
<rect x="354" y="209.64" width="33" height="443.36" fill="#060070"/>
<rect x="354" y="221.03" width="33" height="431.97" fill="#2000c0"/>
<rect x="354" y="232.42" width="33" height="420.58" fill="#68a8ff"/>
<rect x="354" y="254.95" width="33" height="398.05" fill="#70c0ff"/>
<rect x="354" y="277.73" width="33" height="375.27" fill="#80e0ff"/>
<rect x="354" y="289.12" width="33" height="363.88" fill="#68b0ff"/>
<rect x="354" y="311.90" width="33" height="341.10" fill="#88f8ff"/>
<rect x="354" y="357.46" width="33" height="295.54" fill="#78e0ff"/>
<rect x="354" y="380.24" width="33" height="272.76" fill="#9efdf5"/>
<rect x="354" y="414.41" width="33" height="238.59" fill="#7ceefd"/>
<rect x="354" y="516.92" width="33" height="136.08" fill="#90fcf8"/>
<rect x="354" y="608.04" width="33" height="44.96" fill="#a8fef3"/>
<rect x="420" y="117.80" width="33" height="537.20" fill="#b0fff4"/>
<rect x="420" y="124.00" width="33" height="531.00" fill="#fff0c8"/>
<rect x="420" y="126.70" width="33" height="528.30" fill="#000080"/>
<rect x="420" y="136.00" width="33" height="519.00" fill="#2818e0"/>
<rect x="420" y="138.00" width="33" height="517.00" fill="#000080"/>
<rect x="420" y="209.64" width="33" height="445.36" fill="#1800b0"/>
<rect x="420" y="221.03" width="33" height="433.97" fill="#2000c0"/>
<rect x="420" y="232.42" width="33" height="422.58" fill="#3000f0"/>
<rect x="420" y="243.81" width="33" height="411.19" fill="#5a78ff"/>
<rect x="420" y="254.95" width="33" height="400.05" fill="#68a8ff"/>
<rect x="420" y="266.34" width="33" height="388.66" fill="#70c8ff"/>
<rect x="420" y="289.12" width="33" height="365.88" fill="#68b8ff"/>
<rect x="420" y="311.90" width="33" height="343.10" fill="#8cfaff"/>
<rect x="420" y="357.46" width="33" height="297.54" fill="#80f0ff"/>
<rect x="420" y="380.24" width="33" height="274.76" fill="#8cfaff"/>
<rect x="420" y="414.41" width="33" height="240.59" fill="#78e0ff"/>
<rect x="420" y="482.75" width="33" height="172.25" fill="#88fcff"/>
<rect x="420" y="561.20" width="33" height="93.80" fill="#98fdf8"/>
<rect x="486" y="117.80" width="33" height="537.20" fill="#b8fff4"/>
<rect x="486" y="132.00" width="33" height="523.00" fill="#ffb030"/>
<rect x="486" y="134.00" width="33" height="521.00" fill="#000080"/>
<rect x="486" y="221.03" width="33" height="433.97" fill="#1800a8"/>
<rect x="486" y="232.42" width="33" height="422.58" fill="#080080"/>
<rect x="486" y="243.81" width="33" height="411.19" fill="#5a80ff"/>
<rect x="486" y="254.95" width="33" height="400.05" fill="#6498ff"/>
<rect x="486" y="277.73" width="33" height="377.27" fill="#5a88ff"/>
<rect x="486" y="311.90" width="33" height="343.10" fill="#74d0ff"/>
<rect x="486" y="334.68" width="33" height="320.32" fill="#84f4ff"/>
<rect x="486" y="357.46" width="33" height="297.54" fill="#78e0ff"/>
<rect x="486" y="414.41" width="33" height="240.59" fill="#80f0ff"/>
<rect x="486" y="516.92" width="33" height="138.08" fill="#8cfcff"/>
<rect x="486" y="561.20" width="33" height="93.80" fill="#94fdf9"/>
<rect x="552" y="117.80" width="33" height="537.20" fill="#b8fff4"/>
<rect x="552" y="124.70" width="33" height="530.30" fill="#e0ffe8"/>
<rect x="552" y="126.70" width="33" height="528.30" fill="#000080"/>
<rect x="552" y="144.00" width="33" height="511.00" fill="#1000a0"/>
<rect x="552" y="146.00" width="33" height="509.00" fill="#000080"/>
<rect x="552" y="147.00" width="33" height="508.00" fill="#2810e8"/>
<rect x="552" y="150.00" width="33" height="505.00" fill="#000080"/>
<rect x="552" y="151.50" width="33" height="503.50" fill="#1000a0"/>
<rect x="552" y="153.30" width="33" height="501.70" fill="#000080"/>
<rect x="552" y="158.00" width="33" height="497.00" fill="#3018ff"/>
<rect x="552" y="161.70" width="33" height="493.30" fill="#000080"/>
<rect x="552" y="163.50" width="33" height="491.50" fill="#1000a0"/>
<rect x="552" y="165.30" width="33" height="489.70" fill="#000080"/>
<rect x="552" y="221.03" width="33" height="433.97" fill="#1000a0"/>
<rect x="552" y="232.42" width="33" height="422.58" fill="#2000d0"/>
<rect x="552" y="254.95" width="33" height="400.05" fill="#6090ff"/>
<rect x="552" y="277.73" width="33" height="377.27" fill="#5880ff"/>
<rect x="552" y="289.12" width="33" height="365.88" fill="#84f4ff"/>
<rect x="552" y="311.90" width="33" height="343.10" fill="#78e0ff"/>
<rect x="552" y="334.68" width="33" height="320.32" fill="#9efdf5"/>
<rect x="552" y="357.46" width="33" height="297.54" fill="#80f4ff"/>
<rect x="552" y="482.75" width="33" height="172.25" fill="#8cfcff"/>
<rect x="552" y="561.20" width="33" height="93.80" fill="#a8fef3"/>
<rect x="618" y="117.80" width="34" height="537.20" fill="#90f0ff"/>
<rect x="618" y="120.70" width="34" height="534.30" fill="#b8fff0"/>
<rect x="618" y="124.00" width="34" height="531.00" fill="#ffe8d0"/>
<rect x="618" y="126.70" width="34" height="528.30" fill="#000080"/>
<rect x="618" y="254.95" width="34" height="400.05" fill="#5a80ff"/>
<rect x="618" y="266.34" width="34" height="388.66" fill="#68b0ff"/>
<rect x="618" y="289.12" width="34" height="365.88" fill="#6098ff"/>
<rect x="618" y="311.90" width="34" height="343.10" fill="#78e0ff"/>
<rect x="618" y="357.46" width="34" height="297.54" fill="#80f4ff"/>
<rect x="618" y="482.75" width="34" height="172.25" fill="#8cfcff"/>
<rect x="685" y="117.80" width="33" height="535.20" fill="#d0fff0"/>
<rect x="685" y="120.00" width="33" height="533.00" fill="#a0f8ff"/>
<rect x="685" y="126.70" width="33" height="526.30" fill="#000080"/>
<rect x="685" y="147.00" width="33" height="506.00" fill="#3018ff"/>
<rect x="685" y="150.00" width="33" height="503.00" fill="#000080"/>
<rect x="685" y="232.42" width="33" height="420.58" fill="#2000c8"/>
<rect x="685" y="254.95" width="33" height="398.05" fill="#4c60ff"/>
<rect x="685" y="277.73" width="33" height="375.27" fill="#5a88ff"/>
<rect x="685" y="289.12" width="33" height="363.88" fill="#70c8ff"/>
<rect x="685" y="311.90" width="33" height="341.10" fill="#78e0ff"/>
<rect x="685" y="357.46" width="33" height="295.54" fill="#80f4ff"/>
<rect x="685" y="414.41" width="33" height="238.59" fill="#78e0ff"/>
<rect x="685" y="482.75" width="33" height="170.25" fill="#90fcf8"/>
<rect x="685" y="561.20" width="33" height="91.80" fill="#a8fef3"/>
<rect x="751" y="117.80" width="33" height="535.20" fill="#ffe8d0"/>
<rect x="751" y="120.00" width="33" height="533.00" fill="#c0fff0"/>
<rect x="751" y="124.00" width="33" height="529.00" fill="#90e0ff"/>
<rect x="751" y="126.70" width="33" height="526.30" fill="#000080"/>
<rect x="751" y="152.70" width="33" height="500.30" fill="#3020e0"/>
<rect x="751" y="155.00" width="33" height="498.00" fill="#000080"/>
<rect x="751" y="180.00" width="33" height="473.00" fill="#060088"/>
<rect x="751" y="187.00" width="33" height="466.00" fill="#000080"/>
<rect x="751" y="232.42" width="33" height="420.58" fill="#3808ff"/>
<rect x="751" y="254.95" width="33" height="398.05" fill="#4c68ff"/>
<rect x="751" y="277.73" width="33" height="375.27" fill="#5a90ff"/>
<rect x="751" y="289.12" width="33" height="363.88" fill="#70c8ff"/>
<rect x="751" y="311.90" width="33" height="341.10" fill="#78e0ff"/>
<rect x="751" y="380.24" width="33" height="272.76" fill="#80f0ff"/>
<rect x="751" y="414.41" width="33" height="238.59" fill="#a8fef3"/>
<rect x="751" y="482.75" width="33" height="170.25" fill="#88f8ff"/>
<rect x="751" y="561.20" width="33" height="91.80" fill="#a2fdf5"/>
<rect x="817" y="117.80" width="33" height="535.20" fill="#b8fff0"/>
<rect x="817" y="122.70" width="33" height="530.30" fill="#f8f0d8"/>
<rect x="817" y="131.60" width="33" height="521.40" fill="#ff7820"/>
<rect x="817" y="134.00" width="33" height="519.00" fill="#000080"/>
<rect x="817" y="144.70" width="33" height="508.30" fill="#2818e0"/>
<rect x="817" y="147.60" width="33" height="505.40" fill="#000080"/>
<rect x="817" y="155.00" width="33" height="498.00" fill="#5060f8"/>
<rect x="817" y="158.00" width="33" height="495.00" fill="#000080"/>
<rect x="817" y="232.42" width="33" height="420.58" fill="#5070ff"/>
<rect x="817" y="254.95" width="33" height="398.05" fill="#4038ff"/>
<rect x="817" y="277.73" width="33" height="375.27" fill="#4040f8"/>
<rect x="817" y="289.12" width="33" height="363.88" fill="#74d0ff"/>
<rect x="817" y="357.46" width="33" height="295.54" fill="#78e0ff"/>
<rect x="817" y="414.41" width="33" height="238.59" fill="#90fcff"/>
<rect x="817" y="482.75" width="33" height="170.25" fill="#a2fdf5"/>
<rect x="817" y="561.20" width="33" height="91.80" fill="#8ef9fa"/>
<rect x="817" y="608.04" width="33" height="44.96" fill="#b2fef1"/>
<rect x="883" y="117.80" width="33" height="126.00" fill="#c0fff0"/>
<rect x="883" y="121.70" width="33" height="122.10" fill="#ffe8d0"/>
<rect x="883" y="124.70" width="33" height="119.10" fill="#f0f4d8"/>
<rect x="883" y="130.00" width="33" height="113.80" fill="#a0f8ff"/>
<rect x="883" y="134.00" width="33" height="109.80" fill="#6090ff"/>
<rect x="883" y="136.00" width="33" height="107.80" fill="#000080"/>
<rect x="883" y="162.70" width="33" height="81.10" fill="#1808a8"/>
<rect x="883" y="166.70" width="33" height="77.10" fill="#000080"/>
<rect x="883" y="174.00" width="33" height="69.80" fill="#0c0494"/>
<rect x="883" y="178.00" width="33" height="65.80" fill="#000080"/>
<rect x="883" y="209.64" width="33" height="34.16" fill="#3010ff"/>
<rect x="883" y="221.03" width="33" height="22.77" fill="#080078"/>
<rect x="883" y="235.00" width="33" height="8.80" fill="#2000d0"/>
<rect x="949" y="117.80" width="33" height="535.20" fill="#c0fff0"/>
<rect x="949" y="127.30" width="33" height="525.70" fill="#d8fff0"/>
<rect x="949" y="131.30" width="33" height="521.70" fill="#ffe8c0"/>
<rect x="949" y="136.00" width="33" height="517.00" fill="#ffb830"/>
<rect x="949" y="138.00" width="33" height="515.00" fill="#000080"/>
<rect x="949" y="149.50" width="33" height="503.50" fill="#1810b0"/>
<rect x="949" y="150.80" width="33" height="502.20" fill="#000080"/>
<rect x="949" y="232.42" width="33" height="420.58" fill="#2000d0"/>
<rect x="949" y="243.81" width="33" height="409.19" fill="#080080"/>
<rect x="949" y="254.95" width="33" height="398.05" fill="#5070ff"/>
<rect x="949" y="277.73" width="33" height="375.27" fill="#5a90ff"/>
<rect x="949" y="289.12" width="33" height="363.88" fill="#68b0ff"/>
<rect x="949" y="311.90" width="33" height="341.10" fill="#74d0ff"/>
<rect x="949" y="357.46" width="33" height="295.54" fill="#80f4ff"/>
<rect x="949" y="414.41" width="33" height="238.59" fill="#88fcff"/>
<rect x="949" y="482.75" width="33" height="170.25" fill="#92fcf7"/>
<rect x="949" y="561.20" width="33" height="91.80" fill="#a0fdf5"/>
<rect x="949" y="608.04" width="33" height="44.96" fill="#b2fef1"/>
</g>
<g font-size="25" fill="#262626">
<text x="146.9" y="207.6" text-anchor="end" xml:space="preserve">200</text>
<text x="146.9" y="298.68" text-anchor="end" xml:space="preserve">400</text>
<text x="146.9" y="389.76" text-anchor="end" xml:space="preserve">600</text>
<text x="146.9" y="480.84" text-anchor="end" xml:space="preserve">800</text>
<text x="146.9" y="571.92" text-anchor="end" xml:space="preserve">1000</text>
<text x="146.9" y="663.0" text-anchor="end" xml:space="preserve">1200</text>
<text x="288.26" y="688.3" text-anchor="middle" xml:space="preserve">5</text>
<text x="453.46" y="688.3" text-anchor="middle" xml:space="preserve">10</text>
<text x="618.66" y="688.3" text-anchor="middle" xml:space="preserve">15</text>
<text x="783.86" y="688.3" text-anchor="middle" xml:space="preserve">20</text>
<text x="949.06" y="688.3" text-anchor="middle" xml:space="preserve">25</text>
</g>
<g font-size="27.08" fill="#262626">
<text x="472.0" y="721.7" textLength="192.3" lengthAdjust="spacing" xml:space="preserve">Cycle Number</text>
<text transform="translate(70.3,478.2) rotate(-90)" textLength="183.5" lengthAdjust="spacing">Pressure (db)</text>
</g>
<g font-size="27.08" font-weight="bold" fill="#000">
<text x="240.5" y="108.1" textLength="76.8" lengthAdjust="spacing" xml:space="preserve">Navo</text>
<text x="337.5" y="108.1" textLength="156.7" lengthAdjust="spacing" xml:space="preserve">ADJUSTED</text>
<text x="505.3" y="108.1" xml:space="preserve">N</text>
<text x="528.3" y="95.8" font-size="20.83" xml:space="preserve">2</text>
<text x="544.7" y="108.1" textLength="116" lengthAdjust="spacing" xml:space="preserve"> (1e-3 s</text>
<text x="662.5" y="95.8" font-size="20.83" xml:space="preserve">-2</text>
<text x="687.3" y="108.1" textLength="209" lengthAdjust="spacing" xml:space="preserve">) for 2901367</text>
</g>
<g font-size="18.75" fill="#000">
<text x="156.2" y="117.9" xml:space="preserve">o</text>
<text x="189.24" y="117.9" xml:space="preserve">o</text>
<text x="222.28" y="117.9" xml:space="preserve">o</text>
<text x="255.32" y="117.9" xml:space="preserve">o</text>
<text x="288.36" y="117.9" xml:space="preserve">o</text>
<text x="321.4" y="117.9" xml:space="preserve">o</text>
<text x="354.44" y="117.9" xml:space="preserve">o</text>
<text x="387.48" y="117.9" xml:space="preserve">o</text>
<text x="420.52" y="117.9" xml:space="preserve">o</text>
<text x="453.56" y="117.9" xml:space="preserve">o</text>
<text x="486.6" y="117.9" xml:space="preserve">o</text>
<text x="519.64" y="117.9" xml:space="preserve">o</text>
<text x="552.68" y="117.9" xml:space="preserve">o</text>
<text x="585.72" y="117.9" xml:space="preserve">o</text>
<text x="618.76" y="117.9" xml:space="preserve">o</text>
<text x="651.8" y="117.9" xml:space="preserve">o</text>
<text x="684.84" y="117.9" xml:space="preserve">o</text>
<text x="717.88" y="117.9" xml:space="preserve">o</text>
<text x="750.92" y="117.9" xml:space="preserve">o</text>
<text x="783.96" y="117.9" xml:space="preserve">o</text>
<text x="817.0" y="117.9" xml:space="preserve">o</text>
<text x="850.04" y="117.9" xml:space="preserve">o</text>
<text x="883.08" y="117.9" xml:space="preserve">o</text>
<text x="916.12" y="117.9" xml:space="preserve">o</text>
<text x="949.16" y="117.9" xml:space="preserve">o</text>
<text x="982.2" y="117.9" xml:space="preserve">o</text>
</g>
<g font-size="20.83" fill="#000">
<text x="718" y="608.3" xml:space="preserve">042607</text>
<text x="883" y="608.3" xml:space="preserve">APEX</text>
</g>
<text x="453" y="573.1" font-size="25" fill="#000" xml:space="preserve">APEX</text>
</g>
<text x="48" y="1549" font-size="18.4" fill="#000" font-family="'Liberation Sans',sans-serif">WHOI Argo:21-Nov-2018</text>
</svg>
</body>
</html>
